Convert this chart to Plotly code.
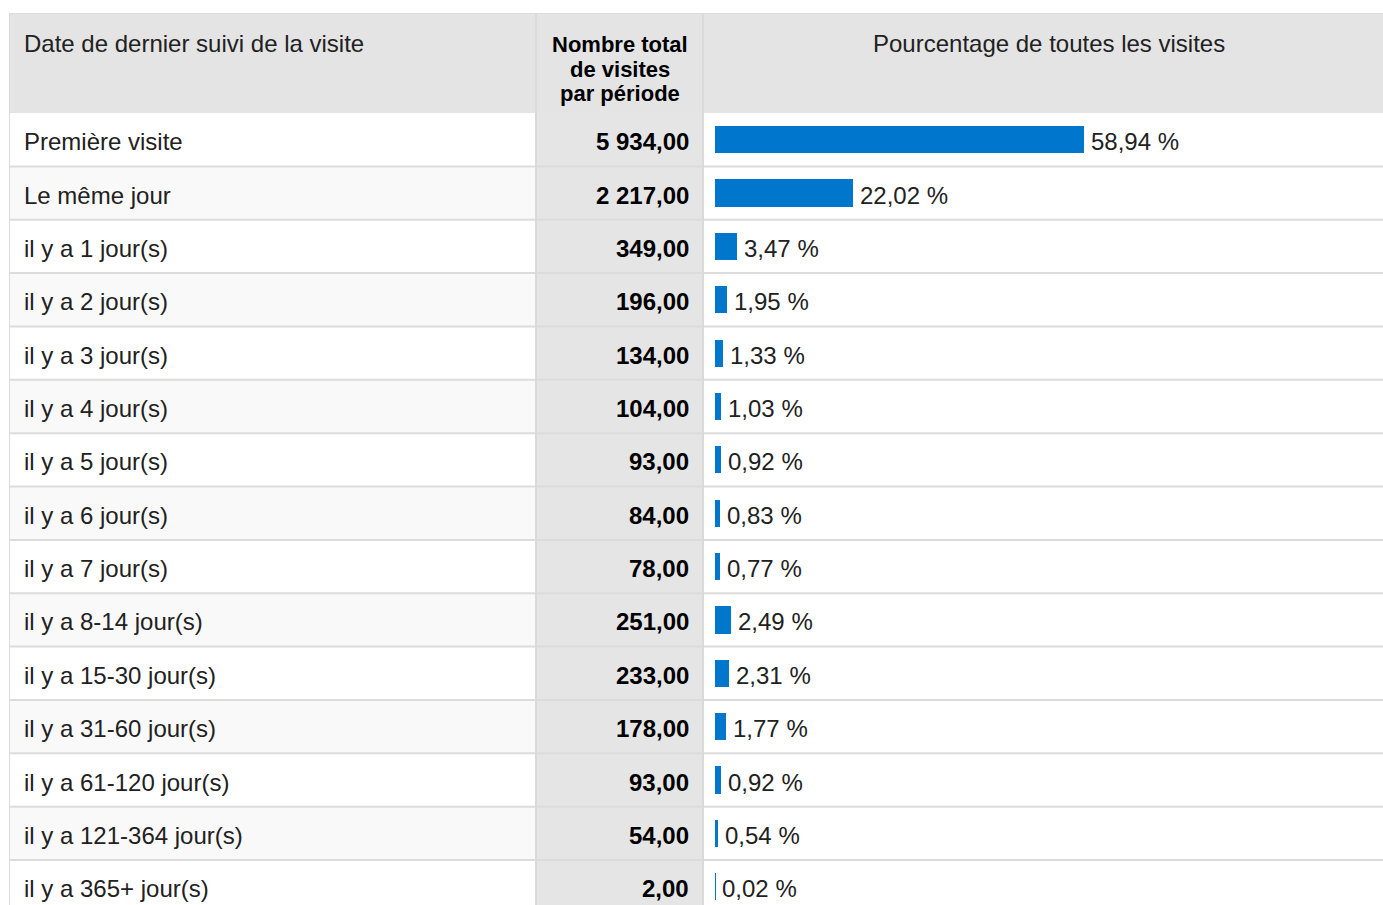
import plotly.graph_objects as go

periodes = [
    "Première visite", "Le même jour",
    "il y a 1 jour(s)", "il y a 2 jour(s)", "il y a 3 jour(s)", "il y a 4 jour(s)",
    "il y a 5 jour(s)", "il y a 6 jour(s)", "il y a 7 jour(s)",
    "il y a 8-14 jour(s)", "il y a 15-30 jour(s)", "il y a 31-60 jour(s)",
    "il y a 61-120 jour(s)", "il y a 121-364 jour(s)", "il y a 365+ jour(s)",
]
visites = [5934, 2217, 349, 196, 134, 104, 93, 84, 78, 251, 233, 178, 93, 54, 2]
pourcentages = [58.94, 22.02, 3.47, 1.95, 1.33, 1.03, 0.92, 0.83, 0.77,
                2.49, 2.31, 1.77, 0.92, 0.54, 0.02]

col_headers = ["Date de dernier suivi de la visite",
               ["Nombre total", "de visites", "par période"],
               "Pourcentage de toutes les visites"]

W, H = 1383, 905
ROW = 53.36                  # row pitch in px
FIRST = 139.7                # centre of first row in px
FONT = "Liberation Sans, Arial, sans-serif"
TXT = "#212121"


def fr_num(v):
    s = f"{v:,.2f}"
    return s.replace(",", " ").replace(".", ",")


def fr_pct(v):
    return f"{v:.2f}".replace(".", ",") + " %"


def px(x):
    return x / W


def py(y):
    return 1 - y / H


n = len(periodes)
idx = list(range(n))

fig = go.Figure()

fig.add_trace(go.Bar(
    x=pourcentages,
    y=idx,
    orientation="h",
    width=0.51,
    marker=dict(color="#0077cc", line=dict(width=0)),
    hoverinfo="skip",
    showlegend=False,
))

shapes = []
# header background
shapes.append(dict(type="rect", xref="paper", yref="paper",
                   x0=px(10), x1=1, y0=py(113), y1=py(14),
                   fillcolor="#e4e4e4", line_width=0, layer="below"))
# column 2 background
shapes.append(dict(type="rect", xref="paper", yref="paper",
                   x0=px(536), x1=px(703), y0=0, y1=py(113),
                   fillcolor="#e5e5e5", line_width=0, layer="below"))
# alternating rows in first column
for i in idx:
    if i % 2 == 1:
        shapes.append(dict(type="rect", xref="paper", yref="y",
                           x0=px(10), x1=px(535), y0=i - 0.5, y1=i + 0.5,
                           fillcolor="#f9f9f9", line_width=0, layer="below"))
# horizontal separators
for i in idx:
    shapes.append(dict(type="line", xref="paper", yref="y",
                       x0=px(10), x1=1, y0=i + 0.5, y1=i + 0.5,
                       line=dict(color="#dcdcdc", width=2), layer="below"))
# vertical separators and outer border
for xv in (536, 703):
    shapes.append(dict(type="line", xref="paper", yref="paper",
                       x0=px(xv), x1=px(xv), y0=0, y1=py(14),
                       line=dict(color="#dadada", width=2), layer="below"))
shapes.append(dict(type="line", xref="paper", yref="paper",
                   x0=px(9.5), x1=px(9.5), y0=0, y1=py(13),
                   line=dict(color="#dcdcdc", width=1), layer="below"))
shapes.append(dict(type="line", xref="paper", yref="paper",
                   x0=px(9.5), x1=1, y0=py(13.5), y1=py(13.5),
                   line=dict(color="#dcdcdc", width=1), layer="below"))

ann = []
# headers
ann.append(dict(text=col_headers[0], xref="paper", yref="paper",
                x=px(22), y=py(44), xanchor="left", yanchor="middle",
                showarrow=False, font=dict(family=FONT, size=24, color=TXT)))
for k, line in enumerate(col_headers[1]):
    ann.append(dict(text=f"<b>{line}</b>", xref="paper", yref="paper",
                    x=px(619.5), y=py(45 + 24 * k), xanchor="center", yanchor="middle",
                    showarrow=False, font=dict(family=FONT, size=22, color="#000")))
ann.append(dict(text=col_headers[2], xref="paper", yref="paper",
                x=px(1048.5), y=py(44), xanchor="center", yanchor="middle",
                showarrow=False, font=dict(family=FONT, size=24, color=TXT)))

for i in idx:
    ann.append(dict(text=periodes[i], xref="paper", yref="y",
                    x=px(22), y=i, xanchor="left", yanchor="middle", yshift=-2,
                    showarrow=False, font=dict(family=FONT, size=24, color=TXT)))
    ann.append(dict(text=f"<b>{fr_num(visites[i])}</b>", xref="paper", yref="y",
                    x=px(691), y=i, xanchor="right", yanchor="middle", yshift=-2,
                    showarrow=False, font=dict(family=FONT, size=24, color="#000")))
    ann.append(dict(text=fr_pct(pourcentages[i]), xref="x", yref="y",
                    x=pourcentages[i], y=i, xanchor="left", yanchor="middle",
                    xshift=5, yshift=-2,
                    showarrow=False, font=dict(family=FONT, size=24, color=TXT)))

scale = 6.26  # px per percent
x0_px = 715.0
top_val = -FIRST / ROW

fig.update_layout(
    width=W, height=H,
    margin=dict(l=0, r=0, t=0, b=0),
    paper_bgcolor="white",
    plot_bgcolor="rgba(0,0,0,0)",
    shapes=shapes,
    annotations=ann,
    bargap=0,
    hovermode=False,
    xaxis=dict(domain=[px(x0_px), 1], range=[0, (W - x0_px) / scale],
               visible=False, fixedrange=True),
    yaxis=dict(domain=[0, 1], range=[top_val + H / ROW, top_val],
               visible=False, fixedrange=True),
)

# drop the default page margin so the figure fills the window
fig.write_html("out.html",
               config={"displayModeBar": False},
               post_script="document.body.style.margin='0';"
                           "document.body.style.overflow='hidden';")
